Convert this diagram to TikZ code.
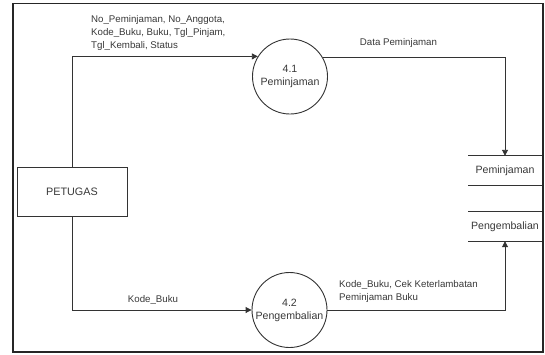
\documentclass[tikz,border=0pt]{standalone}
\usepackage{fontspec}
\setmainfont{Liberation Sans}
\usetikzlibrary{arrows.meta}
\begin{document}
\begin{tikzpicture}[x=1pt,y=-1pt,
  every node/.style={text=black!78},
  proc/.style={circle,draw=black!80,line width=0.9pt,minimum size=75pt,inner sep=0pt,align=center,font=\fontsize{10.6}{13}\selectfont},
  ent/.style={draw=black!80,line width=0.9pt,minimum width=110pt,minimum height=49pt,inner sep=0pt,font=\fontsize{10.8}{13}\selectfont},
  store/.style={minimum width=73pt,minimum height=29pt,inner sep=0pt,font=\fontsize{10.6}{13}\selectfont},
  lbl/.style={inner sep=0pt,align=left,font=\fontsize{9.7}{13}\selectfont},
  flow/.style={draw=black!80,line width=0.9pt,-{Triangle[length=6pt,width=6pt]}},
  sline/.style={draw=black!80,line width=0.9pt}]
\useasboundingbox (0,0) rectangle (545,354);
\draw[black!85,line width=1.2pt] (13,3.5) rectangle (543,352);
\node[ent] (pet) at (72,191.5) {PETUGAS};
\node[proc] (p41) at (290,76.5) {4.1\\Peminjaman};
\node[proc] (p42) at (289.5,310) {4.2\\Pengembalian};
\node[store] (ds1) at (505,170.5) {Peminjaman};
\node[store] (ds2) at (505,226.5) {Pengembalian};
\draw[sline] (ds1.north west) -- (ds1.north east);
\draw[sline] (ds1.south west) -- (ds1.south east);
\draw[sline] (ds2.north west) -- (ds2.north east);
\draw[sline] (ds2.south west) -- (ds2.south east);
\draw[flow] (pet.north) |- (p41.148.7);
\draw[flow] (pet.south) |- (p42.west);
\draw[flow] (p41.31.3) -| (ds1.north);
\draw[flow] (p42.east) -| (ds2.south);
\node[lbl,anchor=west] (l1) at (91,33) {No\_Peminjaman, No\_Anggota,\\Kode\_Buku, Buku, Tgl\_Pinjam,\\Tgl\_Kembali, Status};
\node[lbl] (l2) at (398.5,43) {Data Peminjaman};
\node[lbl] (l3) at (153,300) {Kode\_Buku};
\node[lbl,anchor=west] (l4) at (339,291) {Kode\_Buku, Cek Keterlambatan\\Peminjaman Buku};
\end{tikzpicture}
\end{document}
